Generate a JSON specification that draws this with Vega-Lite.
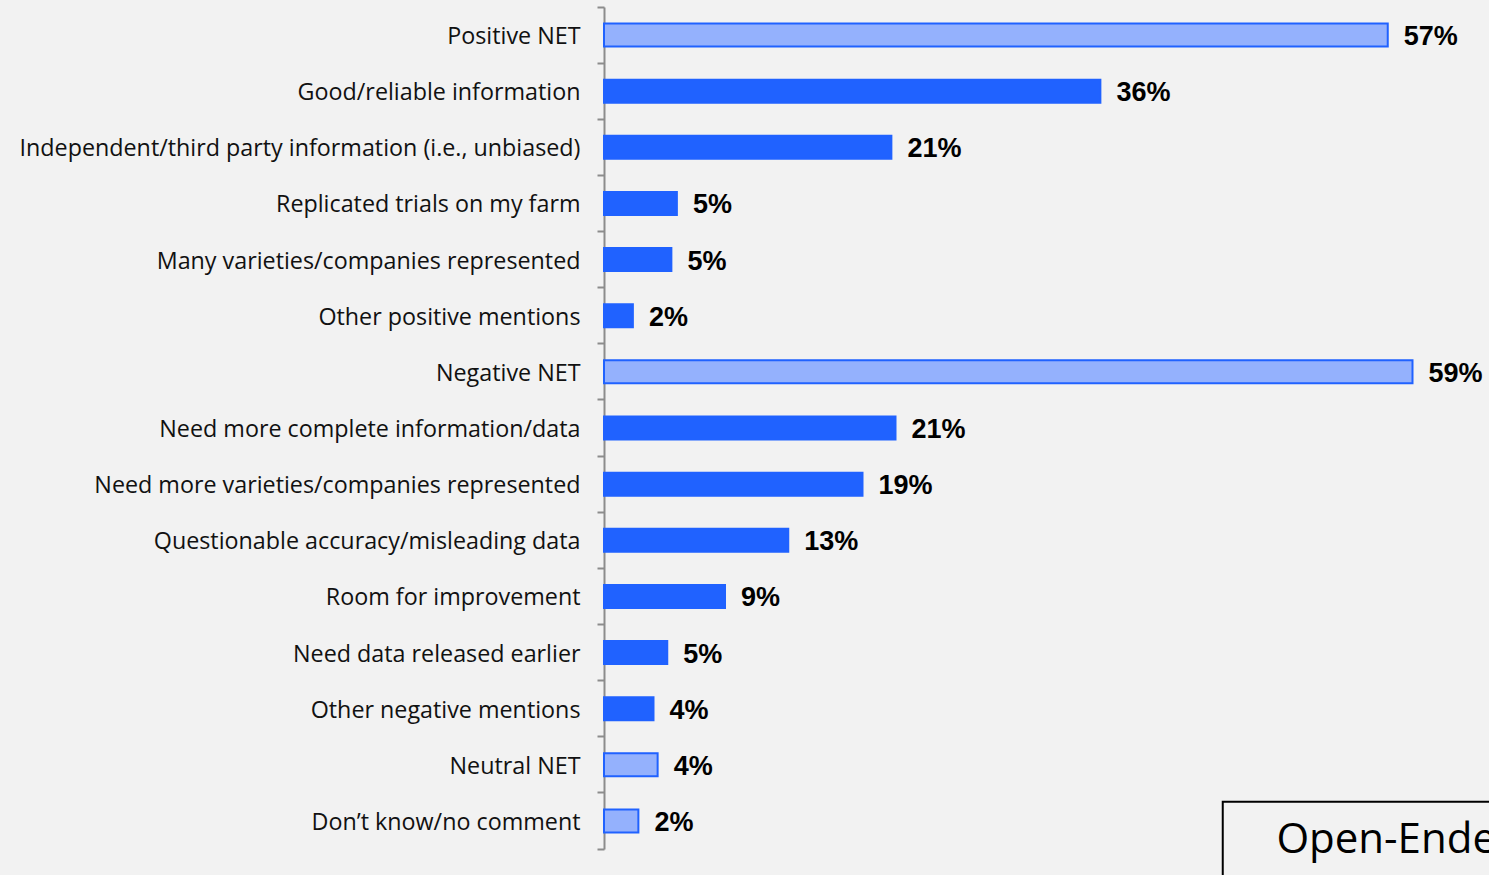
{
  "$schema": "https://vega.github.io/schema/vega-lite/v6.json",
  "autosize": {"type": "none"},
  "width": 825,
  "height": 842,
  "padding": {"left": 604, "top": 7, "right": 60, "bottom": 26},
  "background": "#f2f2f2",
  "config": {"view": {"stroke": null}},
  "data": {"values": [
    {"category": "Positive NET", "value": 57.0, "label": "57%", "kind": "net"},
    {"category": "Good/reliable information", "value": 36.1, "label": "36%", "kind": "item"},
    {"category": "Independent/third party information (i.e., unbiased)", "value": 20.9, "label": "21%", "kind": "item"},
    {"category": "Replicated trials on my farm", "value": 5.3, "label": "5%", "kind": "item"},
    {"category": "Many varieties/companies represented", "value": 4.9, "label": "5%", "kind": "item"},
    {"category": "Other positive mentions", "value": 2.1, "label": "2%", "kind": "item"},
    {"category": "Negative NET", "value": 58.8, "label": "59%", "kind": "net"},
    {"category": "Need more complete information/data", "value": 21.2, "label": "21%", "kind": "item"},
    {"category": "Need more varieties/companies represented", "value": 18.8, "label": "19%", "kind": "item"},
    {"category": "Questionable accuracy/misleading data", "value": 13.4, "label": "13%", "kind": "item"},
    {"category": "Room for improvement", "value": 8.8, "label": "9%", "kind": "item"},
    {"category": "Need data released earlier", "value": 4.6, "label": "5%", "kind": "item"},
    {"category": "Other negative mentions", "value": 3.6, "label": "4%", "kind": "item"},
    {"category": "Neutral NET", "value": 3.9, "label": "4%", "kind": "net"},
    {"category": "Don’t know/no comment", "value": 2.5, "label": "2%", "kind": "net"}
  ]},
  "encoding": {
    "y": {
      "field": "category", "type": "nominal", "sort": null,
      "scale": {"paddingInner": 0, "paddingOuter": 0},
      "axis": {
        "title": null, "bandPosition": 1, "tickExtra": true,
        "domainColor": "#8c8c8c", "domainWidth": 2,
        "tickColor": "#8c8c8c", "tickWidth": 2, "tickSize": 7,
        "labelPadding": 17, "labelFont": "Open Sans", "labelFontSize": 23.3,
        "labelOffset": 2,
        "labelColor": "#111111", "labelLimit": 700
      }
    }
  },
  "layer": [
    {
      "mark": {"type": "bar", "height": {"band": 0.41}, "strokeWidth": 2},
      "encoding": {
        "x": {"field": "value", "type": "quantitative", "scale": {"domain": [0, 60]}, "axis": null},
        "fill": {"field": "kind", "type": "nominal", "scale": {"domain": ["net", "item"], "range": ["#94b1fd", "#2062ff"]}, "legend": null},
        "stroke": {"field": "kind", "type": "nominal", "scale": {"domain": ["net", "item"], "range": ["#2062ff", "#2062ff"]}, "legend": null}
      }
    },
    {
      "mark": {"type": "text", "align": "left", "baseline": "middle", "dx": 16, "dy": 2, "font": "Liberation Sans", "fontWeight": "bold", "fontSize": 27, "color": "#000000"},
      "encoding": {
        "x": {"field": "value", "type": "quantitative"},
        "text": {"field": "label"}
      }
    },
    {
      "data": {"values": [{"x0": 45, "x1": 80, "cat": "Don’t know/no comment", "note": "Open-Ended"}]},
      "mark": {"type": "rect", "fill": null, "stroke": "#000000", "strokeWidth": 2, "clip": false},
      "encoding": {
        "x": {"field": "x0", "type": "quantitative"},
        "x2": {"field": "x1"},
        "y": {"datum": "Don’t know/no comment", "bandPosition": 0.16},
        "y2": {"datum": "Don’t know/no comment", "bandPosition": 1.6}
      }
    },
    {
      "data": {"values": [{"x0": 48.9, "cat": "Don’t know/no comment", "note": "Open-Ended"}]},
      "mark": {"type": "text", "align": "left", "baseline": "middle", "font": "Open Sans", "fontSize": 42, "color": "#000000"},
      "encoding": {
        "x": {"field": "x0", "type": "quantitative"},
        "y": {"datum": "Don’t know/no comment", "bandPosition": 0.84},
        "text": {"field": "note"}
      }
    }
  ]
}
